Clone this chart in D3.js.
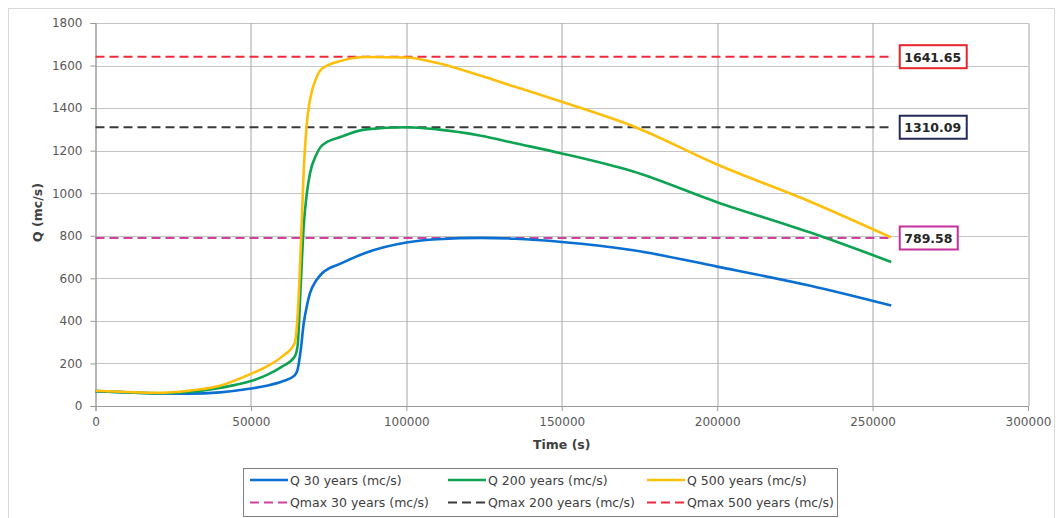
<!DOCTYPE html>
<html>
<head>
<meta charset="utf-8">
<script src="https://cdn.jsdelivr.net/npm/d3@7"></script>
<style>
  body { margin: 0; background: #fff; }
  svg { font-family: "DejaVu Sans", sans-serif; }
</style>
</head>
<body>
<svg width="1060" height="518"></svg>
<script>
var canvas = d3.select("svg");

var iWidth = +canvas.attr("width");
var iHeight = +canvas.attr("height");

var margin = { top: 23, right: 32, bottom: 112, left: 95.5 };
var iInnerWidth = iWidth - margin.left - margin.right;
var iInnerHeight = iHeight - margin.top - margin.bottom;

// time (s)
var times = [0, 10000, 20000, 30000, 40000, 50000, 55000, 60000, 64000, 65000, 66000, 67000,
    68000, 69000, 71000, 73000, 79000, 87000, 100000, 110000, 124000, 135000, 150000, 173000,
    200000, 230000, 256000];

// discharge series (mc/s)
var q30 = [70, 64, 59, 58, 64, 82, 95, 115, 143, 170, 260, 390,
    470, 530, 590, 625, 670, 720, 768, 784, 790, 786, 771, 732,
    655, 565, 472];
var q200 = [70, 64, 60, 66, 85, 117, 145, 185, 230, 280, 560, 850,
    1000, 1093, 1180, 1226, 1265, 1300, 1310, 1300, 1270, 1235, 1187, 1102,
    958, 815, 677];
var q500 = [72, 66, 62, 72, 95, 151, 185, 232, 293, 420, 730, 1110,
    1330, 1438, 1540, 1587, 1622, 1640, 1638, 1612, 1552, 1500, 1430, 1315,
    1135, 960, 792];

var seriesNames = ["Q 30 years (mc/s)", "Q 200 years (mc/s)", "Q 500 years (mc/s)"];
var qmaxNames = ["Qmax 30 years (mc/s)", "Qmax 200 years (mc/s)", "Qmax 500 years (mc/s)"];
var qmaxValues = [789.58, 1310.09, 1641.65];
var qmaxLabels = ["789.58", "1310.09", "1641.65"];

var xTicks = [0, 50000, 100000, 150000, 200000, 250000, 300000];
var yTicks = [0, 200, 400, 600, 800, 1000, 1200, 1400, 1600, 1800];

var colorSeries = ["#0a6fd2", "#0ea352", "#ffbe0a"];
var colorQmax = ["#d13f9f", "#3a3a3a", "#f0283c"];
var colorBox = ["#c4309c", "#25295a", "#e8242c"];

var xScale = d3.scaleLinear().domain([0, 300000]).range([0, iInnerWidth]);
var yScale = d3.scaleLinear().domain([0, 1800]).range([iInnerHeight, 0]);

// outer chart frame
canvas.append("rect")
    .attr("x", 8.5).attr("y", 8.5)
    .attr("width", iWidth - 14).attr("height", iHeight)
    .attr("fill", "none").attr("stroke", "#d9d9d9");

var parentGroup = canvas.append("g")
    .attr("transform", `translate(${margin.left},${margin.top})`);

// horizontal grid
parentGroup.append("g")
    .selectAll("line")
    .data(yTicks)
    .enter()
    .append("line")
    .attr("x1", 0).attr("x2", iInnerWidth)
    .attr("y1", d => Math.round(yScale(d)) + 0.5)
    .attr("y2", d => Math.round(yScale(d)) + 0.5)
    .attr("stroke", "#c4c4c4");

// vertical grid
parentGroup.append("g")
    .selectAll("line")
    .data(xTicks)
    .enter()
    .append("line")
    .attr("y1", 0).attr("y2", iInnerHeight)
    .attr("x1", d => Math.round(xScale(d)) + 0.5)
    .attr("x2", d => Math.round(xScale(d)) + 0.5)
    .attr("stroke", "#a6a6a6");

// axes
var yAxis = parentGroup.append("g")
    .call(d3.axisLeft(yScale).tickValues(yTicks).tickSize(5).tickPadding(8).tickFormat(d3.format("d")));
var xAxis = parentGroup.append("g")
    .attr("transform", `translate(0,${iInnerHeight})`)
    .call(d3.axisBottom(xScale).tickValues(xTicks).tickSize(5).tickPadding(6).tickFormat(d3.format("d")));

[xAxis, yAxis].forEach(function (ax) {
    ax.select(".domain").attr("stroke", "#9a9a9a");
    ax.selectAll(".tick line").attr("stroke", "#9a9a9a");
    ax.selectAll("text").attr("fill", "#595959").style("font-size", "12px")
        .style("font-family", "'DejaVu Sans', sans-serif");
});

// axis titles
parentGroup.append("text")
    .attr("x", iInnerWidth / 2)
    .attr("y", iInnerHeight + 43)
    .attr("text-anchor", "middle")
    .style("font-size", "12.5px")
    .style("font-weight", "bold")
    .attr("fill", "#404040")
    .text("Time (s)");

parentGroup.append("text")
    .attr("transform", `translate(${-54},${iInnerHeight / 2 - 2}) rotate(-90)`)
    .attr("text-anchor", "middle")
    .style("font-size", "12.5px")
    .style("font-weight", "bold")
    .attr("fill", "#404040")
    .text("Q (mc/s)");

// Qmax dashed lines
var tEnd = times[times.length - 1];
parentGroup.append("g")
    .selectAll("line")
    .data(qmaxValues)
    .enter()
    .append("line")
    .attr("x1", xScale(0))
    .attr("x2", xScale(tEnd))
    .attr("y1", d => yScale(d))
    .attr("y2", d => yScale(d))
    .attr("stroke", (d, i) => colorQmax[i])
    .attr("stroke-width", 2)
    .attr("stroke-dasharray", "9,5");

// series lines
var allSeries = [q30, q200, q500];
var line = d3.line()
    .x((d, i) => xScale(times[i]))
    .y(d => yScale(d))
    .curve(d3.curveMonotoneX);

parentGroup.append("g")
    .selectAll("path")
    .data(allSeries)
    .enter()
    .append("path")
    .attr("d", d => line(d))
    .attr("fill", "none")
    .attr("stroke", (d, i) => colorSeries[i])
    .attr("stroke-width", 2.6)
    .attr("stroke-linejoin", "round");

// value label boxes
var labelGroups = parentGroup.append("g")
    .selectAll("g")
    .data(qmaxValues)
    .enter()
    .append("g")
    .attr("transform", d => `translate(${xScale(tEnd) + 8},${yScale(d)})`);

labelGroups.append("text")
    .attr("x", 5)
    .attr("y", 5)
    .style("font-size", "12.5px")
    .style("font-weight", "bold")
    .attr("fill", "#262626")
    .text((d, i) => qmaxLabels[i])
    .each(function (d, i) {
        var bb = this.getBBox();
        d3.select(this.parentNode).insert("rect", "text")
            .attr("x", 0.5)
            .attr("y", -11.5)
            .attr("width", Math.round(bb.width) + 10)
            .attr("height", 23)
            .attr("fill", "#fff")
            .attr("stroke", colorBox[i])
            .attr("stroke-width", 2);
    });

// legend
var legendX = 243, legendY = 468, legendW = 594, legendH = 48;
var legend = canvas.append("g");
legend.append("rect")
    .attr("x", legendX + 0.5).attr("y", legendY + 0.5)
    .attr("width", legendW).attr("height", legendH)
    .attr("fill", "#fff").attr("stroke", "#808080");

var colX = [250, 448, 647];
var rowY = [480, 502.5];

seriesNames.forEach(function (name, i) {
    legend.append("line")
        .attr("x1", colX[i]).attr("x2", colX[i] + 38)
        .attr("y1", rowY[0]).attr("y2", rowY[0])
        .attr("stroke", colorSeries[i]).attr("stroke-width", 2.6);
    legend.append("text")
        .attr("x", colX[i] + 40).attr("y", rowY[0] + 4.5)
        .style("font-size", "12.5px").attr("fill", "#404040")
        .text(name);
});

qmaxNames.forEach(function (name, i) {
    legend.append("line")
        .attr("x1", colX[i]).attr("x2", colX[i] + 38)
        .attr("y1", rowY[1]).attr("y2", rowY[1])
        .attr("stroke", colorQmax[i]).attr("stroke-width", 2)
        .attr("stroke-dasharray", "9,5");
    legend.append("text")
        .attr("x", colX[i] + 40).attr("y", rowY[1] + 4.5)
        .style("font-size", "12.5px").attr("fill", "#404040")
        .text(name);
});
</script>
</body>
</html>
